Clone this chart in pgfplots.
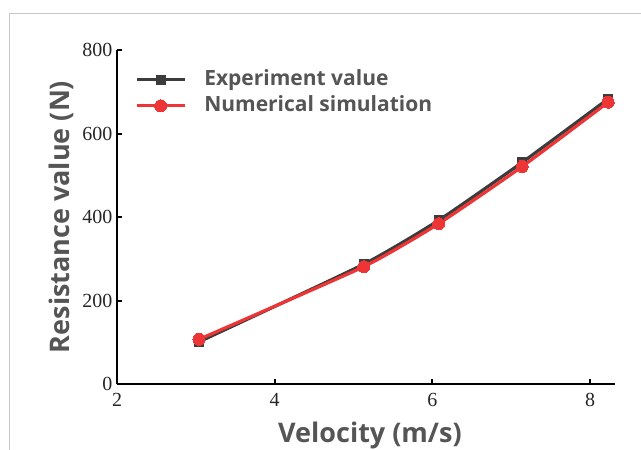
\documentclass[border=0pt]{standalone}
\usepackage{fontspec}
\setmainfont{Liberation Serif}
\newfontfamily\labfont{Open Sans}
\usepackage{pgfplots}
\pgfplotsset{compat=1.18}
\definecolor{labgray}{HTML}{555555}
\definecolor{expgray}{HTML}{3C3C3C}
\definecolor{simred}{HTML}{EE3535}

\begin{document}
\begin{tikzpicture}[x=1pt,y=1pt]
\path[use as bounding box] (0,0) rectangle (641,-450);
\clip (0,0) rectangle (641,-450);
% light frame of the original figure
\draw[color=black!22, line width=1pt] (9,-450) -- (9,-13) -- (641,-13);
\begin{axis}[
    at={(117pt,-384pt)}, anchor=south west,
    scale only axis, width=497.5pt, height=334pt,
    xmin=2, xmax=8.31, ymin=0, ymax=800,
    xtick={2,4,6,8}, ytick={0,200,400,600,800},
    axis lines=left,
    axis line style={line width=2.2pt, -},
    tick style={line width=2pt, black},
    major tick length=5pt, tick align=inside,
    /pgf/number format/assume math mode=true,
    ticklabel style={font=\fontsize{20}{20}\selectfont, text=black!85},
    xticklabel style={yshift=-6pt},
    yticklabel style={xshift=-1pt},
    xlabel={Velocity (m/s)},
    ylabel={Resistance value (N)},
    label style={font=\labfont\bfseries\fontsize{27}{27}\selectfont, text=labgray},
    xlabel style={at={(axis description cs:0.5085,-0.1766)}, anchor=base},
    ylabel style={at={(axis description cs:-0.111,0.5)}, anchor=center},
    legend image code/.code={
        \draw[mark repeat=2, mark phase=2] plot coordinates {(0pt,0pt) (24pt,0pt) (48pt,0pt)};
    },
    legend style={
        at={(axis description cs:0.036,0.943)}, anchor=north west,
        draw=none, fill=none, inner sep=0pt,
        row sep=5pt,
        nodes={inner sep=0pt, text height=16pt, text depth=5pt},
        font=\labfont\bfseries\fontsize{21}{21}\selectfont, text=labgray,
        /tikz/every odd column/.append style={column sep=18pt},
    },
    legend cell align=left,
]
\addplot[expgray, line width=3.2pt, smooth, tension=0.3,
    mark=square*, mark size=4.5pt, mark options={solid, line width=0pt}]
    coordinates {(3.04,101) (5.13,287) (6.08,392) (7.14,531) (8.23,683)};
\addlegendentry{Experiment value}
\addplot[simred, line width=3.2pt, smooth, tension=0.3,
    mark=*, mark size=6pt, mark options={solid, line width=0pt}]
    coordinates {(3.04,107) (5.13,281) (6.08,384) (7.14,521) (8.23,675)};
\addlegendentry{Numerical simulation}
\end{axis}
\end{tikzpicture}
\end{document}
